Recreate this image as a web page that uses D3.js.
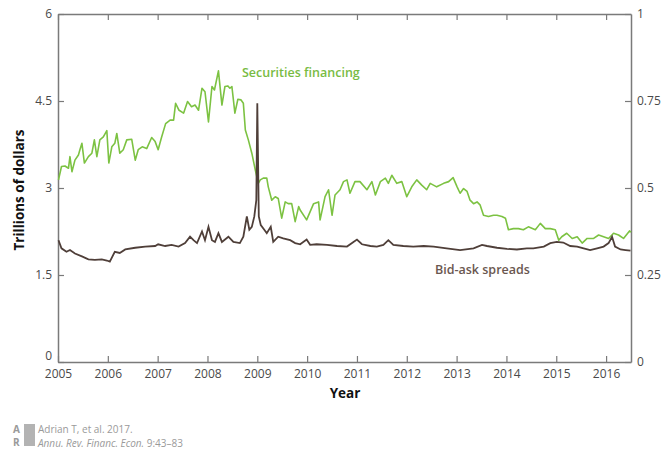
<!DOCTYPE html>
<html><head><meta charset="utf-8">
<script src="https://cdn.jsdelivr.net/npm/d3@7"></script>
<style>body{margin:0;background:#fff}svg{display:block}</style>
</head><body>
<svg id="c" width="661" height="454"></svg>
<script>
const yearTicks = [2005,2006,2007,2008,2009,2010,2011,2012,2013,2014,2015,2016];
const leftTicks = [0,1.5,3,4.5,6];
const leftTickLabels = ["0","1.5","3","4.5","6"];
const rightTicks = [0,0.25,0.5,0.75,1];
const rightTickLabels = ["0","0.25","0.5","0.75","1"];

const finYears = [2005.01,2005.07,2005.14,2005.21,2005.24,2005.28,2005.34,2005.41,2005.44,2005.48,2005.53,2005.61,2005.68,2005.73,2005.78,2005.84,2005.91,2005.98,2006.02,2006.08,2006.14,2006.18,2006.24,2006.31,2006.38,2006.48,2006.55,2006.61,2006.69,2006.78,2006.88,2006.95,2007.01,2007.08,2007.16,2007.25,2007.32,2007.36,2007.43,2007.52,2007.60,2007.68,2007.75,2007.82,2007.89,2007.95,2008.02,2008.09,2008.14,2008.22,2008.29,2008.35,2008.41,2008.45,2008.49,2008.55,2008.61,2008.67,2008.72,2008.76,2008.82,2008.89,2008.96,2009.02,2009.06,2009.12,2009.19,2009.22,2009.29,2009.36,2009.42,2009.49,2009.56,2009.62,2009.69,2009.76,2009.83,2009.86,2009.99,2010.13,2010.23,2010.26,2010.36,2010.43,2010.50,2010.56,2010.66,2010.73,2010.80,2010.86,2010.96,2011.06,2011.20,2011.30,2011.37,2011.47,2011.57,2011.63,2011.70,2011.80,2011.90,2012.00,2012.10,2012.20,2012.30,2012.40,2012.47,2012.60,2012.74,2012.84,2012.93,2013.01,2013.07,2013.14,2013.21,2013.27,2013.34,2013.41,2013.47,2013.54,2013.64,2013.74,2013.81,2013.91,2013.98,2014.04,2014.14,2014.24,2014.34,2014.44,2014.58,2014.68,2014.78,2014.88,2014.98,2015.05,2015.11,2015.21,2015.32,2015.42,2015.52,2015.62,2015.75,2015.85,2015.95,2016.05,2016.15,2016.25,2016.35,2016.47,2016.50];
const finValues = [3.14,3.37,3.38,3.34,3.54,3.28,3.48,3.57,3.66,3.77,3.43,3.54,3.60,3.83,3.54,3.83,3.88,3.99,3.43,3.71,3.77,3.94,3.60,3.66,3.83,3.84,3.48,3.66,3.71,3.68,3.87,3.80,3.66,3.88,4.11,4.17,4.17,4.46,4.34,4.29,4.49,4.40,4.43,4.34,4.72,4.66,4.14,4.75,4.69,5.02,4.43,4.75,4.76,4.72,4.75,4.29,4.53,4.52,4.46,4.00,3.83,3.60,3.31,3.08,3.14,3.17,3.17,3.02,2.79,2.85,2.82,2.48,2.76,2.73,2.73,2.42,2.68,2.62,2.45,2.73,2.76,2.45,2.85,2.97,2.53,2.88,2.97,3.11,3.14,2.91,3.11,3.11,2.97,3.11,2.88,3.11,3.17,3.08,3.22,3.08,3.11,2.85,3.02,3.14,3.05,2.97,3.08,3.02,3.08,3.11,3.18,3.02,2.91,2.99,2.94,2.79,2.73,2.76,2.71,2.53,2.51,2.53,2.53,2.51,2.48,2.28,2.30,2.30,2.28,2.33,2.28,2.39,2.30,2.30,2.28,2.10,2.16,2.22,2.13,2.16,2.05,2.13,2.13,2.19,2.16,2.13,2.22,2.19,2.13,2.26,2.24];

const bidYears = [2005.01,2005.07,2005.17,2005.24,2005.34,2005.48,2005.61,2005.74,2005.88,2005.98,2006.04,2006.14,2006.24,2006.35,2006.55,2006.75,2006.95,2007.01,2007.15,2007.28,2007.42,2007.55,2007.65,2007.72,2007.79,2007.89,2007.95,2008.02,2008.09,2008.15,2008.22,2008.29,2008.42,2008.52,2008.65,2008.72,2008.79,2008.84,2008.89,2008.94,2008.98,2009.00,2009.03,2009.07,2009.14,2009.19,2009.27,2009.32,2009.42,2009.52,2009.66,2009.76,2009.86,2009.99,2010.06,2010.19,2010.40,2010.60,2010.80,2010.93,2011.00,2011.10,2011.27,2011.40,2011.53,2011.63,2011.73,2011.93,2012.13,2012.34,2012.54,2012.80,2013.07,2013.34,2013.51,2013.61,2013.81,2014.01,2014.21,2014.41,2014.54,2014.75,2014.88,2015.01,2015.14,2015.28,2015.42,2015.55,2015.68,2015.82,2015.95,2016.05,2016.12,2016.18,2016.29,2016.39,2016.49];
const bidValues = [2.10,1.96,1.90,1.93,1.87,1.82,1.77,1.76,1.77,1.75,1.73,1.90,1.88,1.94,1.97,1.99,2.00,2.03,2.00,2.02,1.99,2.05,2.16,2.10,2.05,2.25,2.10,2.33,2.10,2.07,2.22,2.07,2.16,2.07,2.05,2.16,2.51,2.28,2.33,2.51,2.79,4.46,2.51,2.36,2.28,2.22,2.33,2.07,2.16,2.13,2.10,2.05,2.03,2.11,2.02,2.03,2.02,2.00,1.99,2.07,2.11,2.03,2.00,1.99,2.02,2.10,2.02,2.00,1.99,2.00,1.99,1.96,1.93,1.96,2.02,2.00,1.97,1.95,1.94,1.96,1.96,1.99,2.05,2.07,2.06,2.00,1.99,1.96,1.93,1.96,1.99,2.05,2.16,1.99,1.94,1.93,1.92];

const svg = d3.select("#c");
const L = 58, R = 631, T = 14, B = 362;
const x = d3.scaleLinear().domain([2005, 2016.5]).range([L, R]);
const yL = d3.scaleLinear().domain([0, 6]).range([B, T]);
const yR = d3.scaleLinear().domain([0, 1]).range([B, T]);
const font = "'Open Sans', sans-serif";
const axisCol = "#7a7a7a", textCol = "#4a4a4a";

function style(g){
  g.select(".domain").attr("stroke", axisCol).attr("stroke-width", 1.5);
  g.selectAll(".tick line").attr("stroke", axisCol).attr("stroke-width", 1.2);
  g.selectAll(".tick text").attr("fill", textCol).style("font-family", font).style("font-size", "12px");
}
svg.append("g").attr("transform", `translate(0,${B})`)
  .call(d3.axisBottom(x).tickValues(yearTicks).tickFormat(d3.format("d")).tickSizeInner(-6).tickSizeOuter(0).tickPadding(7)).call(style);
svg.append("g").attr("transform", `translate(0,${T})`)
  .call(d3.axisTop(x).tickValues(yearTicks).tickFormat("").tickSizeInner(-6).tickSizeOuter(0)).call(style);
const gl = svg.append("g").attr("transform", `translate(${L},0)`)
  .call(d3.axisLeft(yL).tickValues(leftTicks).tickFormat((d,i)=>leftTickLabels[i]).tickSizeInner(-6).tickSizeOuter(0).tickPadding(6)).call(style);
gl.selectAll(".tick text").filter(d=>d===0).attr("dy","-0.2em");
const gr = svg.append("g").attr("transform", `translate(${R},0)`)
  .call(d3.axisRight(yR).tickValues(rightTicks).tickFormat((d,i)=>rightTickLabels[i]).tickSizeInner(-6).tickSizeOuter(0).tickPadding(6)).call(style);

const line = d3.line().x(d=>x(d[0])).y(d=>yL(d[1]));
svg.append("path").datum(finYears.map((t,i)=>[t, finValues[i]]))
  .attr("d", line).attr("fill","none").attr("stroke","#7cc242").attr("stroke-width",1.6).attr("stroke-linejoin","round");
svg.append("path").datum(bidYears.map((t,i)=>[t, bidValues[i]]))
  .attr("d", line).attr("fill","none").attr("stroke","#4f3f39").attr("stroke-width",1.8).attr("stroke-linejoin","miter");

svg.append("text").attr("x", 242).attr("y", 77).text("Securities financing")
  .attr("fill","#78bb43").style("font-family",font).style("font-size","12.5px").style("font-weight",600);
svg.append("text").attr("x", 435).attr("y", 274).text("Bid-ask spreads")
  .attr("fill","#6a5750").style("font-family",font).style("font-size","12.5px").style("font-weight",600);

svg.append("text").attr("transform","translate(24,190) rotate(-90)").attr("text-anchor","middle")
  .text("Trillions of dollars").attr("fill","#111").style("font-family",font).style("font-size","13.5px").style("font-weight",700);
svg.append("text").attr("x", 345).attr("y", 398).attr("text-anchor","middle")
  .text("Year").attr("fill","#111").style("font-family",font).style("font-size","13.5px").style("font-weight",700);

// footer
const fg = svg.append("g");
fg.append("rect").attr("x",24).attr("y",424).attr("width",11).attr("height",22).attr("fill","#b3b3b3");
fg.append("text").attr("x",13).attr("y",433).text("A").attr("fill","#9a9a9a").style("font-family",font).style("font-size","10px").style("font-weight",700);
fg.append("text").attr("x",13).attr("y",446).text("R").attr("fill","#9a9a9a").style("font-family",font).style("font-size","10px").style("font-weight",700);
fg.append("text").attr("x",38).attr("y",433).text("Adrian T, et al. 2017.")
  .attr("fill","#9a9a9a").style("font-family",font).style("font-size","10px");
const t2 = fg.append("text").attr("x",38).attr("y",447).attr("fill","#9a9a9a").style("font-family",font).style("font-size","10px");
t2.append("tspan").text("Annu. Rev. Financ. Econ.").style("font-style","italic");
t2.append("tspan").text(" 9:43–83");
</script>
</body></html>
